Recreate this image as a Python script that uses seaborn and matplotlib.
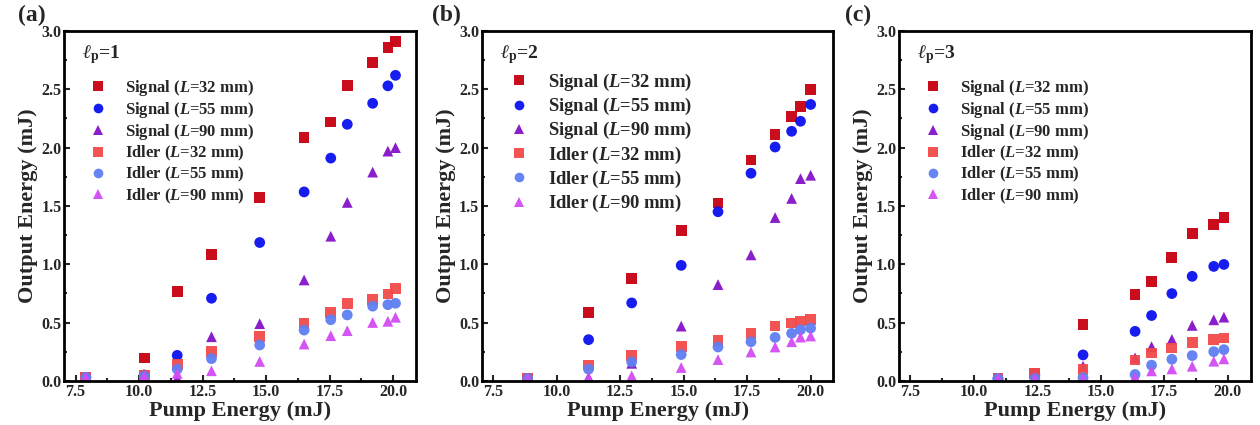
import pandas as pd
import matplotlib
matplotlib.use('Agg')
import matplotlib.pyplot as plt
from matplotlib.ticker import MultipleLocator
import seaborn as sns

# Datos
series_names = ['Signal ($L$=32 mm)', 'Signal ($L$=55 mm)', 'Signal ($L$=90 mm)',
                'Idler ($L$=32 mm)', 'Idler ($L$=55 mm)', 'Idler ($L$=90 mm)']
series_colors = ['#C80010', '#0A10EE', '#8412C8', '#F24A4A', '#5F7FF2', '#D24CF4']
series_markers = ['s', 'o', '^', 's', 'o', '^']

pump_a = [7.9, 10.2, 11.5, 12.85, 14.75, 16.5, 17.55, 18.2, 19.2, 19.8, 20.1]
sig32_a = [0.03, 0.195, 0.765, 1.083, 1.57, 2.09, 2.22, 2.53, 2.73, 2.86, 2.91]
sig55_a = [0.03, 0.05, 0.218, 0.708, 1.186, 1.62, 1.91, 2.20, 2.38, 2.53, 2.62]
sig90_a = [0.03, 0.04, 0.02, 0.378, 0.49, 0.865, 1.24, 1.53, 1.79, 1.97, 2.0]
idl32_a = [0.03, 0.05, 0.138, 0.25, 0.378, 0.496, 0.587, 0.66, 0.70, 0.745, 0.79]
idl55_a = [0.03, 0.04, 0.10, 0.19, 0.307, 0.435, 0.524, 0.565, 0.64, 0.653, 0.665]
idl90_a = [0.03, 0.04, 0.063, 0.086, 0.166, 0.315, 0.387, 0.43, 0.50, 0.51, 0.545]

pump_b = [8.85, 11.25, 12.95, 14.9, 16.35, 17.65, 18.6, 19.25, 19.6, 20.0]
sig32_b = [0.02, 0.589, 0.876, 1.29, 1.524, 1.894, 2.11, 2.27, 2.354, 2.50]
sig55_b = [0.02, 0.353, 0.668, 0.99, 1.45, 1.78, 2.005, 2.14, 2.226, 2.37]
sig90_b = [0.02, 0.03, 0.15, 0.469, 0.825, 1.08, 1.40, 1.564, 1.734, 1.763]
idl32_b = [0.02, 0.136, 0.219, 0.293, 0.347, 0.407, 0.469, 0.495, 0.512, 0.526]
idl55_b = [0.02, 0.10, 0.162, 0.225, 0.29, 0.335, 0.372, 0.407, 0.438, 0.452]
idl90_b = [0.02, 0.028, 0.043, 0.114, 0.182, 0.247, 0.29, 0.335, 0.375, 0.384]

pump_c = [10.95, 12.4, 14.3, 16.35, 17.0, 17.8, 18.6, 19.45, 19.85]
sig32_c = [0.02, 0.063, 0.48, 0.739, 0.85, 1.06, 1.262, 1.342, 1.40]
sig55_c = [0.02, 0.05, 0.222, 0.424, 0.56, 0.748, 0.896, 0.981, 0.998]
sig90_c = [0.02, 0.03, 0.125, 0.196, 0.293, 0.355, 0.475, 0.523, 0.546]
idl32_c = [0.02, 0.06, 0.097, 0.179, 0.239, 0.281, 0.327, 0.355, 0.367]
idl55_c = [0.02, 0.02, 0.026, 0.054, 0.134, 0.185, 0.216, 0.25, 0.267]
idl90_c = [0.02, 0.02, 0.02, 0.031, 0.085, 0.102, 0.125, 0.168, 0.188]

panels = [
    ('(a)', r'$\ell_{\mathrm{p}}$=1', pump_a, [sig32_a, sig55_a, sig90_a, idl32_a, idl55_a, idl90_a]),
    ('(b)', r'$\ell_{\mathrm{p}}$=2', pump_b, [sig32_b, sig55_b, sig90_b, idl32_b, idl55_b, idl90_b]),
    ('(c)', r'$\ell_{\mathrm{p}}$=3', pump_c, [sig32_c, sig55_c, sig90_c, idl32_c, idl55_c, idl90_c]),
]

sns.set_style('ticks')
plt.rcParams['font.family'] = ['Liberation Serif', 'DejaVu Serif']
plt.rcParams['font.weight'] = 'bold'
plt.rcParams['axes.labelweight'] = 'bold'
plt.rcParams['mathtext.fontset'] = 'custom'
plt.rcParams['mathtext.rm'] = 'Liberation Serif:bold'
plt.rcParams['mathtext.it'] = 'Liberation Serif:italic:bold'
plt.rcParams['mathtext.bf'] = 'Liberation Serif:bold'
plt.rcParams['xtick.direction'] = 'in'
plt.rcParams['ytick.direction'] = 'in'

fig = plt.figure(figsize=(12.6, 4.25), dpi=100)
lefts = [0.051, 0.3825, 0.7135]
tag_x = [-0.131, -0.142, -0.154]
leg_size = [12, 13.4, 12]
leg_space = [0.12, 0.17, 0.12]
leg_top = [0.885, 0.905, 0.885]

for i, (tag, lp, pump, vals) in enumerate(panels):
    ax = fig.add_axes([lefts[i], 0.104, 0.279, 0.823])
    # tabla larga para seaborn
    df = pd.concat([pd.DataFrame({'Pump': pump, 'Energy': v, 'Serie': n})
                    for n, v in zip(series_names, vals)], ignore_index=True)
    sns.scatterplot(data=df, x='Pump', y='Energy', hue='Serie', style='Serie',
                    hue_order=series_names, style_order=series_names,
                    palette=series_colors, markers=series_markers,
                    s=60, linewidth=0, alpha=0.95, ax=ax)
    ax.set_xlim(7.05, 20.9)
    ax.set_ylim(0, 3.0)
    ax.xaxis.set_major_locator(MultipleLocator(2.5))
    ax.xaxis.set_minor_locator(MultipleLocator(1.25))
    ax.yaxis.set_major_locator(MultipleLocator(0.5))
    ax.yaxis.set_minor_locator(MultipleLocator(0.25))
    ax.tick_params(which='major', length=4, width=1.5, labelsize=11.5, pad=2)
    ax.tick_params(which='minor', length=2, width=1.5)
    for lab in ax.get_xticklabels() + ax.get_yticklabels():
        lab.set_fontweight('bold')
    for sp in ax.spines.values():
        sp.set_linewidth(2)
        sp.set_color('black')
    ax.set_xlabel('Pump Energy (mJ)', fontsize=16, labelpad=1)
    ax.set_ylabel('Output Energy (mJ)', fontsize=16, labelpad=2)
    ax.text(0.05, 0.965, lp, transform=ax.transAxes, fontsize=14, va='top', ha='left')
    ax.text(tag_x[i], 1.045, tag, transform=ax.transAxes, fontsize=17, va='center', ha='left')
    ax.legend(loc='upper left', bbox_to_anchor=(0.03, leg_top[i]), frameon=False,
              fontsize=leg_size[i], handletextpad=0.6, labelspacing=leg_space[i],
              markerscale=0.9, borderaxespad=0)

fig.savefig('out.png', dpi=100)
